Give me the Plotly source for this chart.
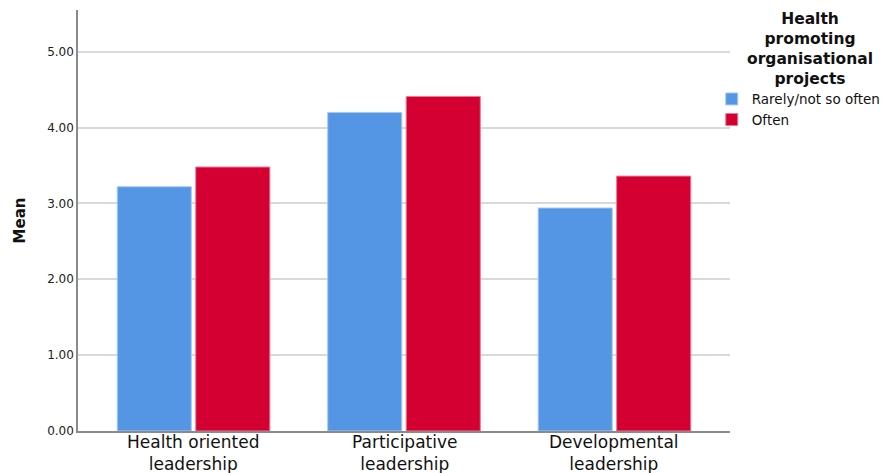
import plotly.graph_objects as go

categories = ["Health oriented<br>leadership", "Participative<br>leadership", "Developmental<br>leadership"]
series_names = ["Rarely/not so often", "Often"]
rarely_values = [3.22, 4.20, 2.94]
often_values = [3.48, 4.41, 3.36]
y_tick_values = [0, 1, 2, 3, 4, 5]
y_tick_labels = ["0.00", "1.00", "2.00", "3.00", "4.00", "5.00"]
legend_title = "Health<br>promoting<br>organisational<br>projects"

colors = ["#5596E4", "#D50032"]
lines = ["#A9C9F2", "#E97A95"]
font = "DejaVu Sans"

fig = go.Figure()
for name, vals, c, lc in zip(series_names, [rarely_values, often_values], colors, lines):
    fig.add_trace(go.Bar(x=[0, 1, 2], y=vals, name=name,
                         marker=dict(color=c, line=dict(color=lc, width=1))))

fig.update_layout(
    width=894, height=473,
    margin=dict(l=78, r=164, t=10, b=42, autoexpand=False),
    plot_bgcolor="white", paper_bgcolor="white",
    barmode="group", bargap=0.254, bargroupgap=0.056,
    font=dict(family=font, color="#222"),
    xaxis=dict(
        range=[-0.549, 2.549], tickvals=[0, 1, 2], showticklabels=False,
        showline=True, linecolor="#8A8A8A", linewidth=1.5, ticks="",
        showgrid=False, zeroline=False, automargin=False,
    ),
    yaxis=dict(
        range=[0, 5.55], tickvals=y_tick_values, ticktext=y_tick_labels,
        showline=True, linecolor="#8A8A8A", linewidth=1.5, ticks="",
        gridcolor="#D9D9D9", gridwidth=1.5, zeroline=False, automargin=False,
        tickfont=dict(size=12, color="#222"),
        title=dict(text="<b>Mean</b>", font=dict(size=15, color="#111"), standoff=18),
    ),
    legend=dict(
        x=0.972, xanchor="left", y=0.825, yanchor="top",
        font=dict(size=13.5, color="#111"), itemwidth=30,
        tracegroupgap=0, bgcolor="rgba(0,0,0,0)",
    ),
    showlegend=True,
)

# category labels below the axis
for i, cat in enumerate(categories):
    fig.add_annotation(text=cat, x=i, xref="x", y=-0.0534, yref="paper",
                       xanchor="center", yanchor="middle", showarrow=False,
                       align="center", font=dict(size=17, color="#111", family=font))

# legend title
fig.add_annotation(text="<b>" + legend_title + "</b>", xref="paper", yref="paper",
                   x=1.122, y=0.908, xanchor="center", yanchor="middle",
                   showarrow=False, align="center",
                   font=dict(size=15.5, color="#111", family=font))

fig.write_html("out.html", config={"displayModeBar": False},
               post_script="document.body.style.margin='0';")
